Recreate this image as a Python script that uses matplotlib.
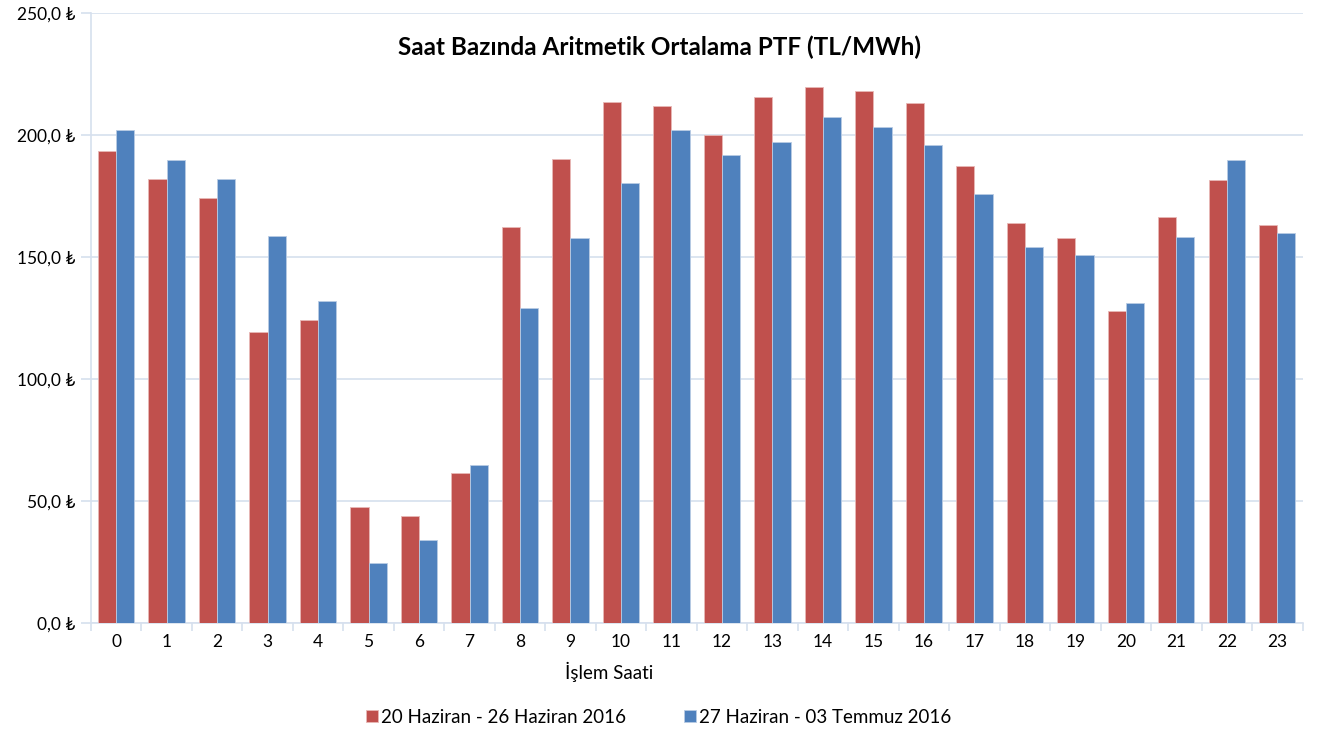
import matplotlib.pyplot as plt
import numpy as np

hours = list(range(24))
week1 = [193.4, 182.0, 174.2, 119.3, 124.2, 47.5, 43.9, 61.5, 162.3, 190.2, 213.5, 211.9,
         200.0, 215.6, 219.7, 218.0, 213.1, 187.3, 163.9, 157.8, 127.9, 166.4, 181.6, 163.1]
week2 = [202.0, 190.0, 182.0, 158.6, 132.0, 24.6, 34.0, 64.8, 129.1, 157.8, 180.3, 202.0,
         191.8, 197.1, 207.4, 203.3, 195.9, 175.8, 154.1, 150.8, 131.1, 158.2, 189.8, 159.8]
labels = ["20 Haziran - 26 Haziran 2016", "27 Haziran - 03 Temmuz 2016"]
yticks = [0, 50, 100, 150, 200, 250]

plt.rcParams["font.family"] = ["Lato", "DejaVu Sans"]

red = "#C0504D"
blue = "#4F81BD"
grid_c = "#D6E0EE"

fig = plt.figure(figsize=(13.17, 7.34), dpi=100)
ax = fig.add_axes([0.069, 0.151, 0.920, 0.831])

x = np.arange(len(hours))
w = 0.36
ax.bar(x - w / 2, week1, w, color=red, edgecolor="#E8B8B6", linewidth=0.6, label=labels[0], zorder=3)
ax.bar(x + w / 2, week2, w, color=blue, edgecolor="#B9CCE4", linewidth=0.6, label=labels[1], zorder=3)

ax.set_xlim(-0.5, len(hours) - 0.5)
ax.set_ylim(0, 250)
ax.set_yticks(yticks)
ax.set_yticklabels([f"{v:.1f}".replace(".", ",") + " ₺" for v in yticks], fontsize=12.5)
ax.set_xticks(x)
ax.set_xticklabels([str(h) for h in hours], fontsize=12.5)
ax.set_xticks(np.arange(-0.5, len(hours), 1), minor=True)
ax.tick_params(axis="x", which="major", length=0, pad=8)
ax.tick_params(axis="x", which="minor", length=6, color=grid_c, width=1.2)
ax.tick_params(axis="y", length=7, color=grid_c, width=1.2, pad=4)

ax.grid(axis="y", color=grid_c, linewidth=1.2, zorder=0)
for s in ["top", "right"]:
    ax.spines[s].set_visible(False)
for s in ["left", "bottom"]:
    ax.spines[s].set_color(grid_c)
    ax.spines[s].set_linewidth(1.2)

ax.set_xlabel("İşlem Saati", fontsize=13.5)
ax.xaxis.set_label_coords(0.428, -0.064)

ax.text(0.469, 0.944, "Saat Bazında Aritmetik Ortalama PTF (TL/MWh)", transform=ax.transAxes,
        ha="center", va="center", fontsize=17.5, fontweight="bold")

fig.legend(loc="center", bbox_to_anchor=(0.5, 0.023), ncol=2, frameon=False, fontsize=13.5,
           handlelength=0.65, handleheight=0.65, handletextpad=0.15, columnspacing=3.1)

fig.savefig("out.png", dpi=100)
